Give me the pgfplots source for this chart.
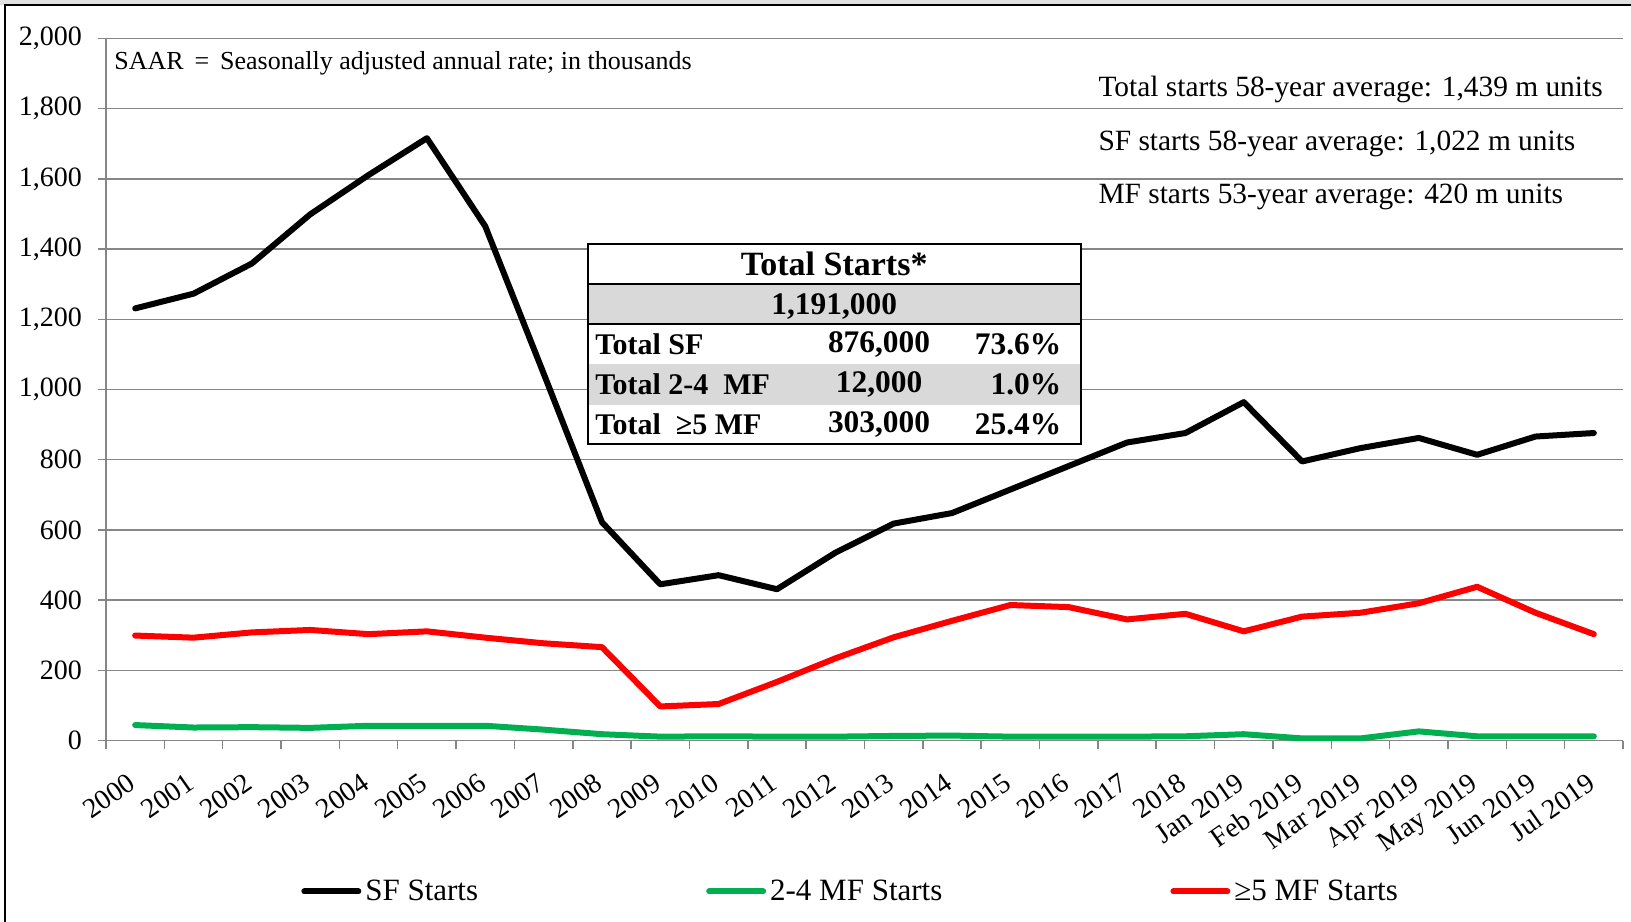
\documentclass[border=0pt]{standalone}
\usepackage{fontspec}
\setmainfont{Liberation Serif}
\usepackage{pgfplots}
\usepackage{pgfplotstable}
\pgfplotsset{compat=1.18}
\definecolor{gridgray}{RGB}{134,134,134}
\definecolor{mfred}{RGB}{255,0,0}
\definecolor{mfgreen}{RGB}{0,176,80}
\definecolor{tabgray}{RGB}{217,217,217}

\pgfplotstableread{
x sf two five
0 1231 44 299
1 1273 37 293
2 1359 38 308
3 1499 36 315
4 1611 42 303
5 1716 42 311
6 1465 42 293
7 1046 31 277
8 622 18 266
9 445 11 97
10 471 12 104
11 431 11 167
12 535 11 234
13 618 13 294
14 648 14 341
15 715 11 386
16 782 11 380
17 849 11 345
18 876 12 361
19 964 18 311
20 795 6 353
21 833 6 364
22 862 26 391
23 814 12 438
24 866 12 364
25 876 12 303
}\datatable

\begin{document}
\begin{tikzpicture}
\begin{axis}[name=ax, scale only axis, width=758.5pt, height=351pt,
  xmin=-0.5, xmax=25.5, ymin=0, ymax=2000,
  axis x line*=bottom, axis y line*=left,
  axis line style={gridgray, line width=0.75pt, -},
  ytick={0,200,...,2000},
  ymajorgrids, major grid style={gridgray, line width=0.75pt},
  tick align=outside, major tick length=4pt,
  tick style={gridgray, line width=0.75pt},
  /pgf/number format/1000 sep={,},
  /pgf/number format/assume math mode=true,
  yticklabel style={font=\fontsize{14}{15}\selectfont, xshift=-4.5pt},
  xtick={-0.5,0.5,...,25.5}, xticklabels={},
  extra x ticks={0,1,...,25},
  extra x tick labels={2000,2001,2002,2003,2004,2005,2006,2007,2008,2009,2010,2011,2012,2013,2014,2015,2016,2017,2018,Jan 2019,Feb 2019,Mar 2019,Apr 2019,May 2019,Jun 2019,Jul 2019},
  extra x tick style={tick style={draw=none}},
  xticklabel style={font=\fontsize{14}{14}\selectfont, rotate=35, anchor=north east, inner sep=1pt, xshift=-9pt, yshift=-6pt},
  legend columns=3,
  legend style={at={(axis description cs:0.1285,-0.215)}, anchor=west, draw=none, fill=none, inner sep=0pt,
    font=\fontsize{15.5}{16}\selectfont,
    /tikz/every even column/.append style={column sep=112pt}},
  legend image code/.code={\draw[#1] (1.5pt,0pt) -- (28.5pt,0pt);},
]
\addplot[black, line width=3pt, line cap=round, line join=round] table[x=x,y=sf]{\datatable};
\addlegendentry{SF Starts}
\addplot[mfgreen, line width=3pt, line cap=round, line join=round] table[x=x,y=two]{\datatable};
\addlegendentry{2-4 MF Starts}
\addplot[mfred, line width=3pt, line cap=round, line join=round] table[x=x,y=five]{\datatable};
\addlegendentry{≥5 MF Starts}

\node[anchor=west, inner sep=0pt, font=\fontsize{13}{13}\selectfont] at (axis description cs:0.0053,0.9644) {SAAR \,=\, Seasonally adjusted annual rate; in thousands};
\node[anchor=west, inner sep=0pt, font=\fontsize{14.7}{15}\selectfont] at (axis description cs:0.654,0.9274) {Total starts 58-year average: 1,439 m units};
\node[anchor=west, inner sep=0pt, font=\fontsize{14.7}{15}\selectfont] at (axis description cs:0.654,0.8504) {SF starts 58-year average: 1,022 m units};
\node[anchor=west, inner sep=0pt, font=\fontsize{14.7}{15}\selectfont] at (axis description cs:0.654,0.7748) {MF starts 53-year average: 420 m units};

\fill[white] (axis description cs:0.318,0.4222) rectangle (axis description cs:0.643,0.7068);
\fill[tabgray] (axis description cs:0.318,0.5927) rectangle (axis description cs:0.643,0.6503);
\fill[tabgray] (axis description cs:0.318,0.4786) rectangle (axis description cs:0.643,0.5364);
\draw[line width=1pt] (axis description cs:0.318,0.4222) rectangle (axis description cs:0.643,0.7068);
\draw[line width=1pt] (axis description cs:0.318,0.6503) -- (axis description cs:0.643,0.6503);
\draw[line width=1pt] (axis description cs:0.318,0.5927) -- (axis description cs:0.643,0.5927);
\node[font=\fontsize{17}{17}\selectfont\bfseries] at (axis description cs:0.480,0.6786) {Total Starts*};
\node[font=\fontsize{15.7}{16}\selectfont\bfseries] at (axis description cs:0.480,0.6185) {1,191,000};
\node[anchor=west, inner sep=0pt, font=\fontsize{15}{15}\selectfont\bfseries] at (axis description cs:0.3223,0.5646) {Total SF};
\node[anchor=west, inner sep=0pt, font=\fontsize{15}{15}\selectfont\bfseries] at (axis description cs:0.3223,0.5075) {Total 2-4\ \ MF};
\node[anchor=west, inner sep=0pt, font=\fontsize{15}{15}\selectfont\bfseries] at (axis description cs:0.3223,0.4504) {Total\ \ ≥5 MF};
\node[font=\fontsize{15.7}{16}\selectfont\bfseries] at (axis description cs:0.5096,0.5646) {876,000};
\node[font=\fontsize{15.7}{16}\selectfont\bfseries] at (axis description cs:0.5096,0.5075) {12,000};
\node[font=\fontsize{15.7}{16}\selectfont\bfseries] at (axis description cs:0.5096,0.4504) {303,000};
\node[anchor=east, inner sep=0pt, font=\fontsize{15.7}{16}\selectfont\bfseries] at (axis description cs:0.630,0.5646) {73.6\%};
\node[anchor=east, inner sep=0pt, font=\fontsize{15.7}{16}\selectfont\bfseries] at (axis description cs:0.630,0.5075) {1.0\%};
\node[anchor=east, inner sep=0pt, font=\fontsize{15.7}{16}\selectfont\bfseries] at (axis description cs:0.630,0.4504) {25.4\%};
\end{axis}
\pgfresetboundingbox
\path[use as bounding box] ([xshift=-53pt,yshift=-90.7pt]ax.south west) rectangle ([xshift=4pt,yshift=19.25pt]ax.north east);
\fill[black!12] ([xshift=-53pt,yshift=16.65pt]ax.north west) rectangle ([xshift=4pt,yshift=19.25pt]ax.north east);
\draw[black, line width=0.9pt] ([xshift=-50.4pt,yshift=-91pt]ax.south west) -- ([xshift=-50.4pt,yshift=16.65pt]ax.north west) -- ([xshift=5pt,yshift=16.65pt]ax.north east);
\end{tikzpicture}
\end{document}
